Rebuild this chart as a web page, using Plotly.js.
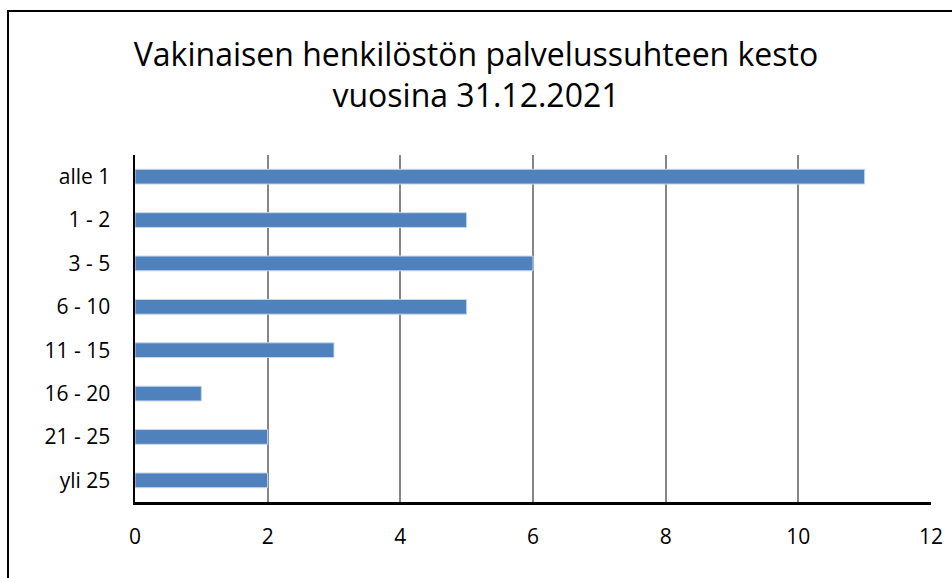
<!DOCTYPE html>
<html><head><meta charset="utf-8">
<script src="https://cdn.plot.ly/plotly-3.0.1.min.js"></script>
<style>
html,body{margin:0;padding:0;background:#fff;overflow:hidden}
#chart{width:952px;height:578px;position:absolute;left:0;top:0}
#frame{position:absolute;left:7px;top:10px;width:1000px;height:700px;border-left:2.5px solid #000;border-top:2.5px solid #000;pointer-events:none}
</style></head>
<body>
<div id="chart"></div>
<div id="frame"></div>
<script>
const categories = ["alle 1", "1 - 2", "3 - 5", "6 - 10", "11 - 15", "16 - 20", "21 - 25", "yli 25"];
const values = [11, 5, 6, 5, 3, 1, 2, 2];
const xTicks = [0, 2, 4, 6, 8, 10, 12];
const titleText = "Vakinaisen henkilöstön palvelussuhteen kesto<br>vuosina 31.12.2021";

const font = "'Open Sans', sans-serif";

const trace = {
  type: "bar",
  orientation: "h",
  x: values,
  y: categories,
  marker: {color: "#4F81BD", line: {color: "#C9D7EA", width: 1}},
  width: 0.34,
  hoverinfo: "x+y"
};

const layout = {
  width: 952, height: 578,
  paper_bgcolor: "#fff", plot_bgcolor: "#fff",
  margin: {l: 134.5, r: 20.5, t: 155, b: 76, pad: 0},
  showlegend: false,
  title: {text: titleText, x: 0.5, xanchor: "center", y: 0.886, yanchor: "top",
          font: {family: font, size: 32, color: "#000"}},
  font: {family: font, color: "#000"},
  xaxis: {
    range: [0, 12], tickvals: xTicks, ticktext: xTicks.map(String),
    showgrid: true, gridcolor: "#868686", gridwidth: 2,
    zeroline: false, showline: true, linecolor: "#000", linewidth: 2.5,
    ticks: "", ticklabelstandoff: 14,
    tickfont: {family: font, size: 21, color: "#000"}, fixedrange: true
  },
  yaxis: {
    type: "category", autorange: "reversed",
    showgrid: false, zeroline: false, showline: true, linecolor: "#000", linewidth: 2.5,
    ticks: "", ticklabelstandoff: 18,
    tickfont: {family: font, size: 21, color: "#000"}, fixedrange: true
  }
};

Plotly.newPlot("chart", [trace], layout, {displayModeBar: false, staticPlot: true});
</script>
</body></html>
